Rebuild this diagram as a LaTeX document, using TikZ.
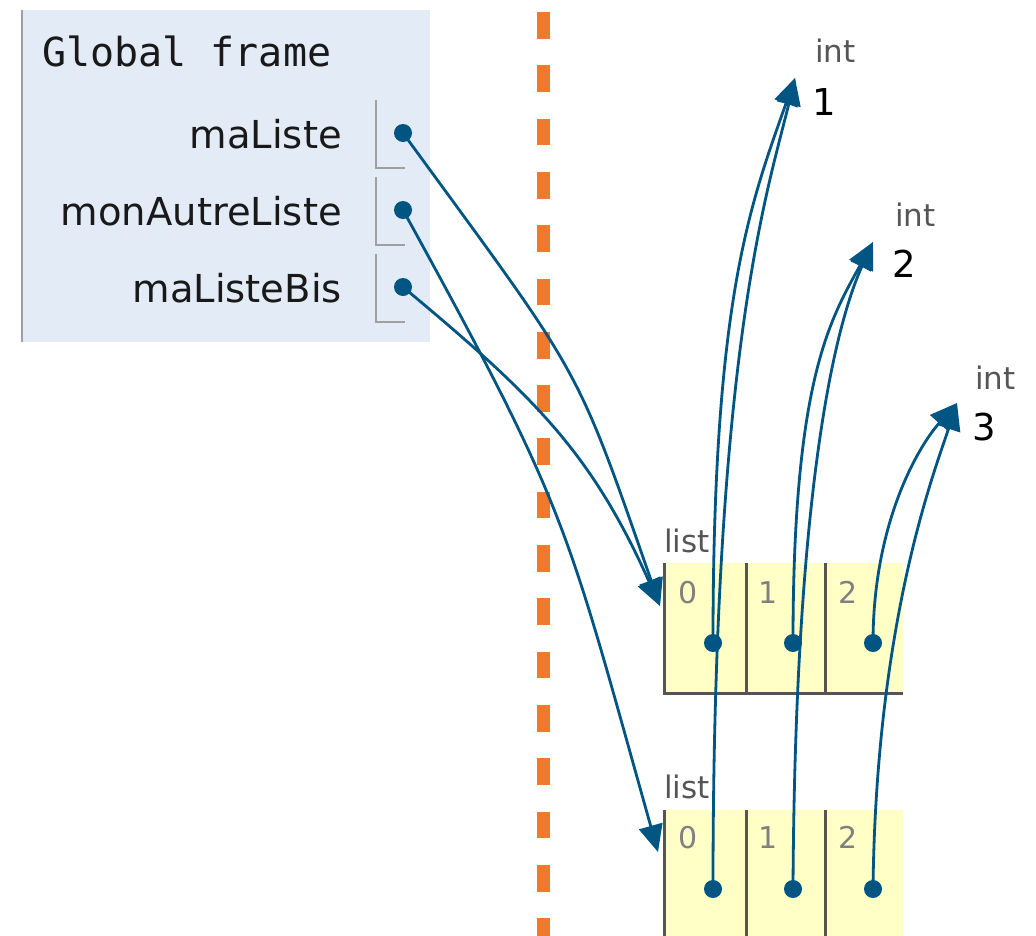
\documentclass[tikz,border=0pt]{standalone}
\usepackage{fontspec}
\setmainfont{DejaVu Sans}
\setmonofont{DejaVu Sans Mono}
\usetikzlibrary{arrows.meta}

\definecolor{ptblue}{HTML}{005583}
\definecolor{framebg}{HTML}{E2EBF6}
\definecolor{listbg}{HTML}{FFFFC6}
\definecolor{dashorange}{HTML}{EE7A2E}
\definecolor{edgegray}{HTML}{555555}
\definecolor{idxgray}{HTML}{808080}
\definecolor{bracketgray}{HTML}{A0A0A0}

\begin{document}
\begin{tikzpicture}[x=1pt,y=-1pt,
  framelabel/.style={inner sep=0pt, anchor=base west, font=\ttfamily\fontsize{40}{40}\selectfont, text=black!90},
  varname/.style={inner sep=0pt, anchor=base east, font=\fontsize{38.5}{38.5}\selectfont, text=black!90},
  typelabel/.style={inner sep=0pt, anchor=base west, font=\fontsize{31}{31}\selectfont, text=edgegray},
  idxlabel/.style={inner sep=0pt, anchor=base west, font=\fontsize{30}{30}\selectfont, text=idxgray},
  intval/.style={inner sep=0pt, anchor=base west, font=\fontsize{37}{37}\selectfont, text=black},
  ptrdot/.style={circle, fill=ptblue, inner sep=0pt, minimum size=18pt},
  conn/.style={draw=ptblue, line width=2.8pt, -{Triangle[length=27pt,width=24pt]}},
  bracket/.style={draw=bracketgray, line width=1.8pt},
  listedge/.style={draw=edgegray, line width=3pt},
]
\useasboundingbox (0,0) rectangle (1036,935);

% global frame
\fill[framebg] (22,10) rectangle (430,342);
\draw[draw=bracketgray, line width=2.6pt] (22,10) -- (22,342);
\node[framelabel] (gtitle) at (42,66) {Global frame};

\node[varname] (v1) at (342,148) {maListe};
\node[varname] (v2) at (342,225) {monAutreListe};
\node[varname] (v3) at (342,302) {maListeBis};

\draw[bracket] (376,100) -- (376,168) -- (405,168);
\draw[bracket] (376,177) -- (376,245) -- (405,245);
\draw[bracket] (376,254) -- (376,322) -- (405,322);

% separator between frames and objects
\draw[dashorange, line width=13pt, dash pattern=on 26.7pt off 26.6pt] (543,12) -- (543,940);

% first list
\fill[listbg] (664,563) rectangle (903,693);
\draw[listedge] (664,563) -- (664,693) -- (903,693);
\draw[listedge] (746,563) -- (746,693);
\draw[listedge] (825,563) -- (825,693);
\node[typelabel] (l1name) at (664,552) {list};
\node[idxlabel] (l1i0) at (678,603) {0};
\node[idxlabel] (l1i1) at (758,603) {1};
\node[idxlabel] (l1i2) at (838,603) {2};

% second list
\fill[listbg] (664,810) rectangle (903,940);
\draw[listedge] (664,810) -- (664,940);
\draw[listedge] (746,810) -- (746,940);
\draw[listedge] (825,810) -- (825,940);
\node[typelabel] (l2name) at (664,798) {list};
\node[idxlabel] (l2i0) at (678,848) {0};
\node[idxlabel] (l2i1) at (758,848) {1};
\node[idxlabel] (l2i2) at (838,848) {2};

% int objects
\node[typelabel] (t1) at (815,62) {int};
\node[intval] (n1) at (812,115) {1};
\node[typelabel] (t2) at (895,226) {int};
\node[intval] (n2) at (892,277) {2};
\node[typelabel] (t3) at (975,389) {int};
\node[intval] (n3) at (972,440) {3};

% arrow targets
\coordinate (i1tip) at (795,78);
\coordinate (i2tip) at (873,242);
\coordinate (i3tip) at (957,403);
\coordinate (l1tip) at (660,606);
\coordinate (l2tip) at (658,852);

% pointer dots
\node[ptrdot] (g1) at (403,133) {};
\node[ptrdot] (g2) at (403,210) {};
\node[ptrdot] (g3) at (403,287) {};
\node[ptrdot] (a0) at (713,643) {};
\node[ptrdot] (a1) at (793,643) {};
\node[ptrdot] (a2) at (873,643) {};
\node[ptrdot] (b0) at (713,889) {};
\node[ptrdot] (b1) at (793,889) {};
\node[ptrdot] (b2) at (873,889) {};

% references from the frame to the lists
\draw[conn] (g1.center) .. controls (584,381) and (574,359) .. (l1tip);
\draw[conn] (g3.center) .. controls (535,397) and (591,452) .. (l1tip);
\draw[conn] (g2.center) .. controls (569,512) and (565,521) .. (l2tip);

% references from the list cells to the ints
\draw[conn] (a0.center) .. controls (713,300) and (750,205) .. (i1tip);
\draw[conn] (b0.center) .. controls (713,350) and (768,190) .. (i1tip);
\draw[conn] (a1.center) .. controls (793,380) and (830,320) .. (i2tip);
\draw[conn] (b1.center) .. controls (795,500) and (833,330) .. (i2tip);
\draw[conn] (a2.center) .. controls (873,525) and (917,448) .. (i3tip);
\draw[conn] (b2.center) .. controls (876,620) and (935,470) .. (i3tip);
\end{tikzpicture}
\end{document}
